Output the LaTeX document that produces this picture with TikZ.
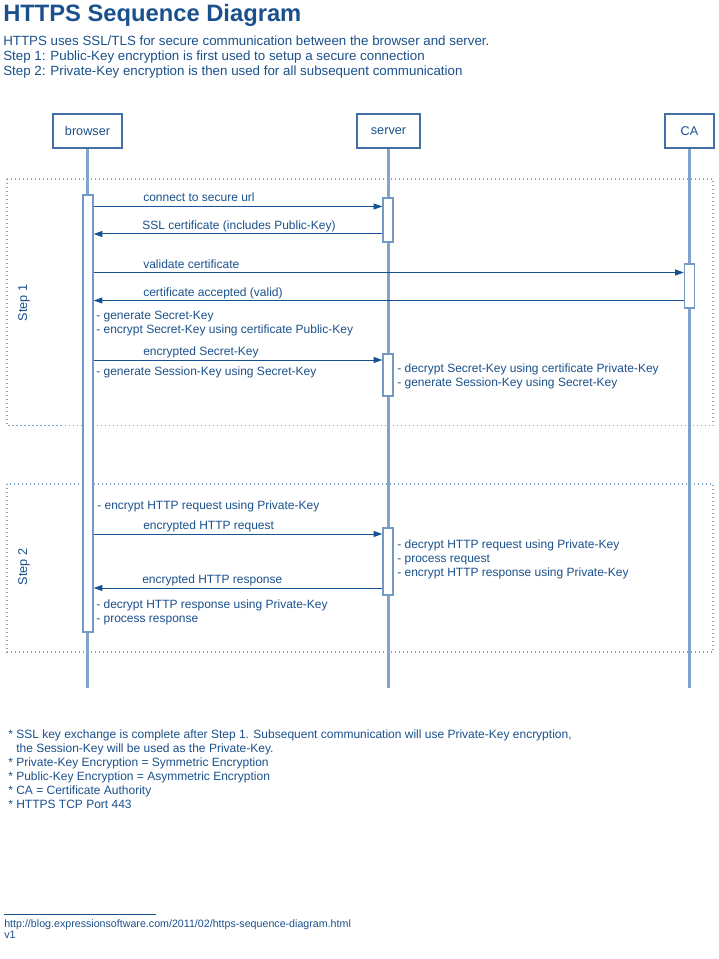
\documentclass[tikz,border=0pt]{standalone}
\usepackage{fontspec}
\setmainfont{Liberation Sans}
\usetikzlibrary{arrows.meta}
\definecolor{seqtext}{RGB}{26,80,140}
\definecolor{seqline}{RGB}{128,164,203}
\definecolor{seqbox}{RGB}{66,112,165}
\definecolor{seqarrow}{RGB}{22,82,145}

\tikzset{
  head/.style={draw=seqbox,line width=1.1pt,fill=white,inner sep=0pt,
    minimum height=25.5pt,font=\fontsize{9.5}{11}\selectfont},
  life/.style={seqline,line width=1.8pt},
  act/.style={draw=seqline!80!seqbox,line width=1.1pt,fill=white,inner sep=0pt,minimum width=7.5pt},
  msg/.style={seqarrow,line width=0.75pt,-{Triangle[length=6.5pt,width=4.5pt]}},
  lbl/.style={anchor=base west,inner sep=0pt,font=\fontsize{9}{10.5}\selectfont},
  frame/.style={seqline,line width=0.8pt,dash pattern=on 0.9pt off 2.1pt},
  steplbl/.style={rotate=90,inner sep=0pt,font=\fontsize{9.5}{11}\selectfont}
}

\begin{document}
\begin{tikzpicture}[x=0.75pt,y=-0.75pt,color=seqtext,text=seqtext]
\useasboundingbox (0,0) rectangle (718,959);

% Title and intro
\node[anchor=base west,inner sep=0pt,font=\fontsize{17.8}{20}\selectfont\bfseries] (title) at (3,21.5) {HTTPS Sequence Diagram};
\node[anchor=base west,inner sep=0pt,font=\fontsize{10}{12}\selectfont] (intro1) at (3,45.5) {HTTPS uses SSL/TLS for secure communication between the browser and server.};
\node[anchor=base west,inner sep=0pt,font=\fontsize{10}{12}\selectfont] (intro2) at (3,60.5) {Step 1: Public-Key encryption is first used to setup a secure connection};
\node[anchor=base west,inner sep=0pt,font=\fontsize{10}{12}\selectfont] (intro3) at (3,75.5) {Step 2: Private-Key encryption is then used for all subsequent communication};

% Step frames
\draw[frame] (7,179) rectangle (713,425.5);
\draw[frame] (7,484) rectangle (713,652);
\node[steplbl] (step1) at (24,303) {Step 1};
\node[steplbl] (step2) at (24,567) {Step 2};

% Participants
\node[head,minimum width=51.75pt] (browser) at (87.5,131) {browser};
\node[head,minimum width=47.25pt] (server) at (388.5,131) {server};
\node[head,minimum width=36.75pt] (ca) at (689.5,131) {CA};

% Lifelines
\coordinate (lend) at (0,688);
\draw[life] (browser.south) -- (browser.south |- lend);
\draw[life] (server.south) -- (server.south |- lend);
\draw[life] (ca.south) -- (ca.south |- lend);

% Activations
\node[act,minimum height=327.75pt] (bact) at (88,413.5) {};
\node[act,minimum height=33pt] (sact1) at (388,220) {};
\node[act,minimum height=33pt] (cact) at (689.5,286) {};
\node[act,minimum height=31.5pt] (sact2) at (388,375) {};
\node[act,minimum height=50.25pt] (sact3) at (388,561.5) {};

% Step 1 messages
\coordinate (m1) at (0,206.5);
\draw[msg] (bact.east |- m1) -- (sact1.west |- m1);
\node[lbl] (l1) at (143,202) {connect to secure url};

\coordinate (m2) at (0,234);
\draw[msg] (sact1.west |- m2) -- (bact.east |- m2);
\node[lbl] (l2) at (142,229.5) {SSL certificate (includes Public-Key)};

\coordinate (m3) at (0,272.5);
\draw[msg] (bact.east |- m3) -- (cact.west |- m3);
\node[lbl] (l3) at (143,268) {validate certificate};

\coordinate (m4) at (0,300.5);
\draw[msg] (cact.west |- m4) -- (bact.east |- m4);
\node[lbl] (l4) at (143,296) {certificate accepted (valid)};

\node[lbl] (n1a) at (96,319) {- generate Secret-Key};
\node[lbl] (n1b) at (96,333) {- encrypt Secret-Key using certificate Public-Key};

\coordinate (m5) at (0,360);
\draw[msg] (bact.east |- m5) -- (sact2.west |- m5);
\node[lbl] (l5) at (143,355.5) {encrypted Secret-Key};
\node[lbl] (n2) at (96,375) {- generate Session-Key using Secret-Key};

\node[lbl] (n3a) at (397,372) {- decrypt Secret-Key using certificate Private-Key};
\node[lbl] (n3b) at (397,386.5) {- generate Session-Key using Secret-Key};

% Step 2 messages
\node[lbl] (n4) at (97,509) {- encrypt HTTP request using Private-Key};

\coordinate (m6) at (0,534);
\draw[msg] (bact.east |- m6) -- (sact3.west |- m6);
\node[lbl] (l6) at (143,529.5) {encrypted HTTP request};

\node[lbl] (n5a) at (397,548) {- decrypt HTTP request using Private-Key};
\node[lbl] (n5b) at (397,562) {- process request};
\node[lbl] (n5c) at (397,576) {- encrypt HTTP response using Private-Key};

\coordinate (m7) at (0,588);
\draw[msg] (sact3.west |- m7) -- (bact.east |- m7);
\node[lbl] (l7) at (142,583.5) {encrypted HTTP response};

\node[lbl] (n6a) at (96,608) {- decrypt HTTP response using Private-Key};
\node[lbl] (n6b) at (96,622) {- process response};

% Notes
\node[lbl] (f1) at (8,738) {* SSL key exchange is complete after Step 1. Subsequent communication will use Private-Key encryption,};
\node[lbl] (f1b) at (16,752) {the Session-Key will be used as the Private-Key.};
\node[lbl] (f2) at (8,766) {* Private-Key Encryption = Symmetric Encryption};
\node[lbl] (f3) at (8,780) {* Public-Key Encryption = Asymmetric Encryption};
\node[lbl] (f4) at (8,794) {* CA = Certificate Authority};
\node[lbl] (f5) at (8,808) {* HTTPS TCP Port 443};

% Footer
\draw[seqarrow,line width=0.75pt] (4,914) -- (156,914);
\node[anchor=base west,inner sep=0pt,font=\fontsize{8}{9.5}\selectfont] (url) at (4,927) {http://blog.expressionsoftware.com/2011/02/https-sequence-diagram.html};
\node[anchor=base west,inner sep=0pt,font=\fontsize{8}{9.5}\selectfont] (ver) at (4,938) {v1};
\end{tikzpicture}
\end{document}
